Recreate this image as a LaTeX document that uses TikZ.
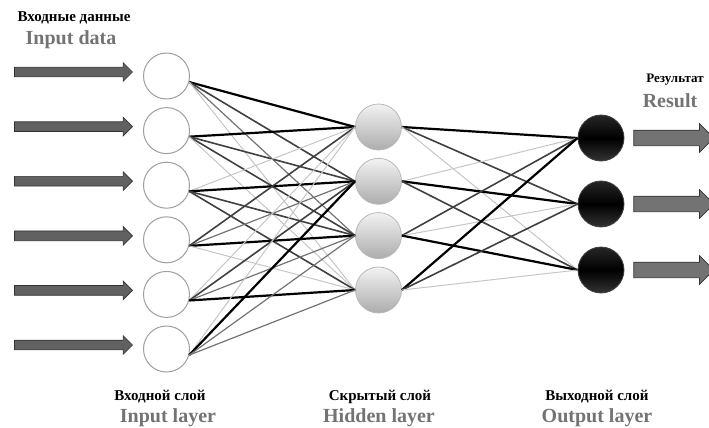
\documentclass[tikz,border=0pt]{standalone}
\usepackage{fontspec}
\setmainfont{Liberation Serif}
\usetikzlibrary{positioning}
\usetikzlibrary{shapes.arrows}

\begin{document}
\begin{tikzpicture}[x=1pt, y=-1pt, node distance=10pt,
	in node/.style={circle, draw=gray!75, line width=1pt, fill=white, minimum size=46pt, inner sep=0pt},
	hid node/.style={circle, draw=gray!55, line width=0.8pt, top color=gray!10, bottom color=gray!65, minimum size=46pt, inner sep=0pt},
	out node/.style={circle, draw=black!75, line width=0.8pt, top color=black!85, bottom color=black!80, middle color=black, minimum size=46pt, inner sep=0pt},
	in arrow/.style={single arrow, draw=black!80, fill=black!62, line width=0.7pt, inner xsep=0pt, inner ysep=4.5pt, minimum height=118pt, single arrow head extend=4.5pt},
	out arrow/.style={single arrow, draw=black!80, fill=black!55, line width=0.7pt, inner xsep=0pt, inner ysep=7.5pt, minimum height=80pt, single arrow head extend=6.5pt},
	light edge/.style={draw=gray!45, line width=1pt},
	mid edge/.style={draw=black!55, line width=1.2pt},
	dark edge/.style={draw=black!75, line width=1.6pt},
	heavy edge/.style={draw=black, line width=2.2pt},
	ru label/.style={font=\fontsize{15}{17}\selectfont\bfseries, text=black},
	en label/.style={font=\fontsize{20}{22}\selectfont\bfseries, text=black!55},
]
\useasboundingbox (0,0) rectangle (709,428);
% nodes
\node [in node] at (166.5, 76) (in1) {};
\node [in node] at (166.5, 130.6) (in2) {};
\node [in node] at (166.5, 185.2) (in3) {};
\node [in node] at (166.5, 239.8) (in4) {};
\node [in node] at (166.5, 294.4) (in5) {};
\node [in node] at (166.5, 349) (in6) {};
\node [hid node] at (378.5, 127) (hid1) {};
\node [hid node] at (378.5, 181.3) (hid2) {};
\node [hid node] at (378.5, 235.6) (hid3) {};
\node [hid node] at (378.5, 290) (hid4) {};
\node [out node] at (601, 138) (out1) {};
\node [out node] at (601, 204) (out2) {};
\node [out node] at (601, 270) (out3) {};
%
\node [in arrow, left=10pt of in1, yshift=4pt] (arrIn1) {};
\node [in arrow, left=10pt of in2, yshift=4pt] (arrIn2) {};
\node [in arrow, left=10pt of in3, yshift=4pt] (arrIn3) {};
\node [in arrow, left=10pt of in4, yshift=4pt] (arrIn4) {};
\node [in arrow, left=10pt of in5, yshift=4pt] (arrIn5) {};
\node [in arrow, left=10pt of in6, yshift=4pt] (arrIn6) {};
\node [out arrow, right=9pt of out1] (arrOut1) {};
\node [out arrow, right=9pt of out2] (arrOut2) {};
\node [out arrow, right=9pt of out3] (arrOut3) {};
%
\node [ru label] at (74, 18) (dataRu) {Входные данные};
\node [en label] at (71, 40) (dataEn) {Input data};
\node [ru label, font=\fontsize{13}{15}\selectfont\bfseries] at (675, 80) (resRu) {Результат};
\node [en label] at (670, 101) (resEn) {Result};
\node [ru label] at (160, 397) (inRu) {Входной слой};
\node [en label] at (168, 418) (inEn) {Input layer};
\node [ru label] at (380, 397) (hidRu) {Скрытый слой};
\node [en label] at (379, 418) (hidEn) {Hidden layer};
\node [ru label] at (597, 397) (outRu) {Выходной слой};
\node [en label] at (597, 418) (outEn) {Output layer};
%
\draw [heavy edge] (in1.-15) -- (hid1.west);
\draw [dark edge]  (in1.-15) -- (hid2.west);
\draw [mid edge]   (in1.-15) -- (hid3.west);
\draw [light edge] (in1.-15) -- (hid4.west);
\draw [heavy edge] (in2.-15) -- (hid1.west);
\draw [dark edge]  (in2.-15) -- (hid2.west);
\draw [dark edge]  (in2.-15) -- (hid3.west);
\draw [light edge] (in2.-15) -- (hid4.west);
\draw [light edge] (in3.-15) -- (hid1.west);
\draw [heavy edge] (in3.-15) -- (hid2.west);
\draw [dark edge]  (in3.-15) -- (hid3.west);
\draw [dark edge]  (in3.-15) -- (hid4.west);
\draw [dark edge]  (in4.-15) -- (hid1.west);
\draw [mid edge]   (in4.-15) -- (hid2.west);
\draw [heavy edge] (in4.-15) -- (hid3.west);
\draw [light edge] (in4.-15) -- (hid4.west);
\draw [light edge] (in5.-15) -- (hid1.west);
\draw [dark edge]  (in5.-15) -- (hid2.west);
\draw [mid edge]   (in5.-15) -- (hid3.west);
\draw [heavy edge] (in5.-15) -- (hid4.west);
\draw [light edge] (in6.-15) -- (hid1.west);
\draw [heavy edge] (in6.-15) -- (hid2.west);
\draw [mid edge]   (in6.-15) -- (hid3.west);
\draw [mid edge]   (in6.-15) -- (hid4.west);
%
\draw [heavy edge] (hid1.east) -- (out1.west);
\draw [dark edge]  (hid1.east) -- (out2.west);
\draw [light edge] (hid1.east) -- (out3.west);
\draw [light edge] (hid2.east) -- (out1.west);
\draw [heavy edge] (hid2.east) -- (out2.west);
\draw [dark edge]  (hid2.east) -- (out3.west);
\draw [dark edge]  (hid3.east) -- (out1.west);
\draw [light edge] (hid3.east) -- (out2.west);
\draw [heavy edge] (hid3.east) -- (out3.west);
\draw [heavy edge] (hid4.east) -- (out1.west);
\draw [dark edge]  (hid4.east) -- (out2.west);
\draw [light edge] (hid4.east) -- (out3.west);
\end{tikzpicture}
\end{document}
